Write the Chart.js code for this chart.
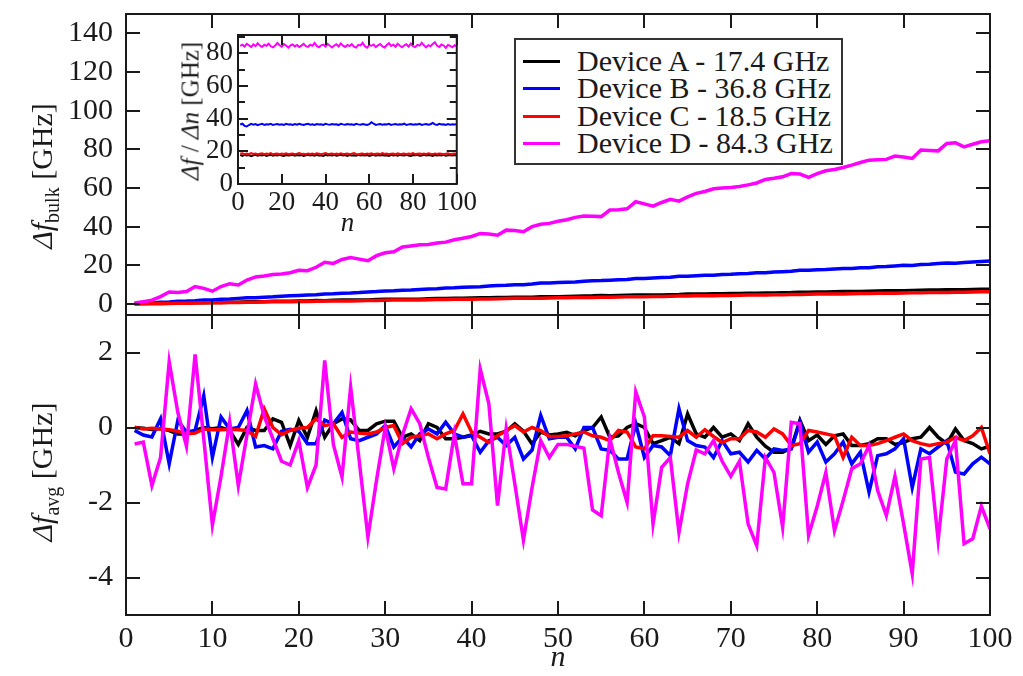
<!DOCTYPE html>
<html>
<head>
<meta charset="utf-8">
<title>Frequency shift per device</title>
<script src="https://cdn.jsdelivr.net/npm/chart.js@4.4.0/dist/chart.umd.min.js"></script>
<style>
    html, body { margin: 0; padding: 0; background: #fff; }
    body { width: 1023px; height: 676px; position: relative; overflow: hidden;
           font-family: 'Liberation Serif', 'Times New Roman', serif; color: #1a1a1a; }
    canvas { position: absolute; }
    .ytitle { position: absolute; white-space: nowrap; transform: translate(-50%, -50%) rotate(-90deg);
              font-size: 30px; line-height: 1; }
    .ytitle sub { font-size: 20px; }
    .ytitle.small { font-size: 25px; }
    #legend { position: absolute; left: 514px; top: 38px; width: 325px; height: 123px;
              border: 2px solid #333; background: #fff; }
    #legend .row { position: absolute; left: 0; height: 28px; line-height: 28px; font-size: 30px; white-space: nowrap; }
    #legend .sw { position: absolute; left: 7px; top: 13px; width: 37px; height: 3px; }
    #legend .txt { position: absolute; left: 61px; top: 0; }
</style>
</head>
<body>
<canvas id="bulk" width="1023" height="316" style="left:0;top:0"></canvas>
<canvas id="avg" width="1023" height="361" style="left:0;top:315px"></canvas>
<canvas id="inset" width="330" height="215" style="left:150px;top:25px"></canvas>

<div class="ytitle" style="left:44px;top:176px"><i>&Delta;f</i><sub>bulk</sub> [GHz]</div>
<div class="ytitle" style="left:44px;top:472px"><i>&Delta;f</i><sub>avg</sub> [GHz]</div>
<div class="ytitle small" style="left:190px;top:111px"><i>&Delta;f</i> / <i>&Delta;n</i> [GHz]</div>
<div id="legend"></div>

<script>
// step index n
const nVals = [
    1, 2, 3, 4, 5, 6, 7, 8, 9, 10, 11, 12, 13, 14, 15, 16, 17, 18, 19, 20,
    21, 22, 23, 24, 25, 26, 27, 28, 29, 30, 31, 32, 33, 34, 35, 36, 37, 38, 39, 40,
    41, 42, 43, 44, 45, 46, 47, 48, 49, 50, 51, 52, 53, 54, 55, 56, 57, 58, 59, 60,
    61, 62, 63, 64, 65, 66, 67, 68, 69, 70, 71, 72, 73, 74, 75, 76, 77, 78, 79, 80,
    81, 82, 83, 84, 85, 86, 87, 88, 89, 90, 91, 92, 93, 94, 95, 96, 97, 98, 99, 100
];

const deviceNames = ['Device A - 17.4 GHz', 'Device B - 36.8 GHz', 'Device C - 18.5 GHz', 'Device D - 84.3 GHz'];
const deviceColors = ['#000000', '#0000ff', '#ff0000', '#ff00ff'];

// cumulative shift, upper panel
const bulkA = [
    0.1, 0.2, 0.2, 0.3, 0.4, 0.4, 0.5, 0.6, 0.7, 0.8, 0.8, 0.9, 0.9, 1.1, 1.1, 1.2, 1.4, 1.4, 1.4, 1.6,
    1.6, 1.8, 1.7, 1.9, 2.0, 2.0, 2.1, 2.1, 2.3, 2.4, 2.4, 2.4, 2.5, 2.5, 2.7, 2.8, 2.8, 2.9, 3.0, 3.1,
    3.2, 3.2, 3.3, 3.4, 3.5, 3.5, 3.5, 3.7, 3.7, 3.8, 3.9, 4.0, 4.1, 4.2, 4.4, 4.3, 4.4, 4.5, 4.6, 4.7,
    4.6, 4.7, 4.8, 4.9, 5.1, 5.1, 5.1, 5.3, 5.3, 5.4, 5.4, 5.6, 5.6, 5.7, 5.7, 5.8, 5.9, 6.1, 6.1, 6.2,
    6.2, 6.3, 6.4, 6.4, 6.5, 6.6, 6.7, 6.8, 6.8, 6.9, 7.0, 7.1, 7.2, 7.2, 7.3, 7.4, 7.4, 7.5, 7.6, 7.6
];
const bulkB = [
    0.2, 0.4, 0.6, 0.9, 1.0, 1.4, 1.5, 1.7, 2.1, 2.1, 2.5, 2.6, 2.9, 3.2, 3.2, 3.5, 3.7, 4.0, 4.2, 4.4,
    4.6, 4.8, 5.2, 5.3, 5.6, 5.7, 5.9, 6.2, 6.4, 6.7, 6.8, 7.1, 7.2, 7.5, 7.8, 7.9, 8.3, 8.4, 8.6, 8.8,
    8.9, 9.3, 9.5, 9.7, 10.0, 10.0, 10.3, 10.8, 10.8, 11.1, 11.3, 11.4, 11.8, 12.0, 12.1, 12.3, 12.5, 12.7, 13.2, 13.2,
    13.5, 13.7, 13.8, 14.4, 14.4, 14.6, 14.8, 14.9, 15.3, 15.4, 15.6, 15.8, 16.1, 16.2, 16.5, 16.7, 16.9, 17.4, 17.4, 17.7,
    17.8, 18.1, 18.4, 18.4, 18.8, 18.7, 19.2, 19.4, 19.7, 20.0, 19.9, 20.4, 20.6, 20.9, 21.2, 21.1, 21.4, 21.7, 22.0, 22.2
];
const bulkC = [
    0.1, 0.1, 0.2, 0.3, 0.3, 0.4, 0.4, 0.5, 0.6, 0.6, 0.7, 0.8, 0.8, 0.9, 0.9, 1.1, 1.1, 1.1, 1.2, 1.3,
    1.3, 1.4, 1.5, 1.5, 1.6, 1.6, 1.7, 1.8, 1.8, 1.9, 2.0, 2.0, 2.1, 2.1, 2.2, 2.3, 2.3, 2.4, 2.5, 2.5,
    2.6, 2.6, 2.7, 2.8, 2.9, 2.9, 3.0, 3.0, 3.1, 3.2, 3.2, 3.3, 3.4, 3.4, 3.5, 3.5, 3.6, 3.7, 3.7, 3.8,
    3.9, 3.9, 4.0, 4.1, 4.1, 4.2, 4.3, 4.3, 4.4, 4.4, 4.5, 4.6, 4.6, 4.7, 4.8, 4.8, 4.9, 4.9, 5.0, 5.1,
    5.1, 5.2, 5.2, 5.3, 5.4, 5.4, 5.5, 5.6, 5.6, 5.7, 5.8, 5.8, 5.9, 5.9, 6.0, 6.1, 6.1, 6.2, 6.3, 6.3
];
const bulkD = [
    0.5, 1.2, 2.0, 3.8, 6.2, 5.9, 6.4, 9.0, 8.1, 6.6, 9.0, 10.5, 9.8, 12.4, 14.0, 14.5, 15.2, 15.5, 16.2, 17.4,
    17.2, 19.0, 21.6, 21.0, 23.0, 24.0, 23.2, 22.4, 25.0, 26.5, 27.0, 29.5, 30.0, 30.6, 30.8, 31.5, 32.0, 33.2, 34.0, 34.9,
    36.5, 36.2, 35.6, 38.2, 38.0, 37.4, 40.0, 41.2, 41.7, 42.8, 43.6, 44.8, 45.5, 45.4, 45.2, 48.6, 48.8, 49.2, 52.9, 51.8,
    50.6, 52.5, 54.1, 53.2, 55.4, 57.2, 58.2, 59.6, 60.0, 60.3, 60.8, 61.6, 62.6, 64.4, 65.0, 65.8, 67.5, 67.2, 65.5, 67.4,
    68.9, 69.6, 70.6, 71.8, 73.2, 74.4, 74.6, 74.8, 76.5, 76.0, 75.3, 79.6, 79.4, 79.2, 83.0, 83.4, 81.3, 82.6, 83.9, 84.5
];

// shift relative to the average, lower panel
const avgA = [
    0.0, -0.02, -0.05, -0.03, -0.08, -0.17, -0.17, -0.08, 0.0, -0.03, 0.0, -0.08, -0.45, 0.0, -0.08, -0.08, 0.23, 0.14, -0.48, 0.19,
    -0.26, 0.45, -0.26, 0.1, 0.23, 0.2, -0.08, -0.08, 0.1, 0.17, 0.17, -0.26, -0.17, -0.35, 0.1, 0.0, -0.3, -0.3, -0.26, -0.2,
    -0.1, -0.17, -0.17, -0.1, 0.1, -0.1, -0.44, -0.12, -0.2, -0.17, -0.13, -0.22, -0.08, 0.0, 0.28, -0.26, -0.22, 0.0, 0.1, 0.0,
    -0.43, -0.35, -0.26, -0.43, 0.36, -0.17, -0.26, 0.0, -0.26, -0.17, -0.35, 0.1, -0.26, -0.5, -0.66, -0.66, -0.55, 0.19, -0.35, -0.2,
    -0.45, -0.22, -0.17, -0.48, -0.48, -0.43, -0.3, -0.3, -0.45, -0.4, -0.3, -0.26, 0.0, -0.26, -0.43, -0.04, -0.35, -0.43, -0.57, -0.5
];
const avgB = [
    -0.08, -0.2, -0.25, 0.23, -0.97, 0.19, -0.12, -0.08, 0.85, -0.8, 0.28, -0.04, 0.0, 0.45, -0.52, -0.48, -0.57, -0.1, -0.05, -0.1,
    -0.43, -0.43, 0.2, 0.1, 0.4, -0.3, -0.35, -0.26, -0.17, 0.05, -0.52, -0.26, -0.52, -0.17, -0.04, -0.17, 0.14, -0.17, -0.26, -0.22,
    -0.66, -0.35, -0.26, -0.48, -0.26, -0.84, -0.6, 0.32, -0.3, -0.26, -0.26, -0.57, 0.0, 0.0, -0.57, -0.61, -0.84, -0.84, 0.1, -0.8,
    -0.48, -0.52, -0.75, 0.5, -0.35, -0.48, -0.52, -0.8, -0.35, -0.7, -0.66, -0.92, -0.61, -0.84, -0.57, -0.61, -0.57, 0.14, -0.66, -0.39,
    -0.92, -0.7, -0.39, -0.97, -0.66, -1.72, -0.75, -0.7, -0.57, -0.3, -1.6, -0.57, -0.7, -0.52, -0.35, -1.19, -1.24, -0.97, -0.79, -0.97
];
const avgC = [
    0.0, -0.04, -0.02, -0.04, -0.06, -0.1, -0.17, -0.15, -0.04, -0.06, -0.06, -0.05, -0.06, -0.08, -0.24, 0.5, 0.0, -0.19, -0.08, -0.02,
    0.0, 0.23, 0.05, 0.1, -0.26, -0.12, -0.15, -0.17, -0.12, 0.0, 0.05, -0.43, -0.26, -0.22, -0.17, -0.3, -0.17, -0.08, 0.36, -0.12,
    -0.26, -0.4, -0.22, -0.08, 0.05, -0.12, 0.0, -0.08, -0.24, -0.24, -0.22, -0.17, -0.12, -0.22, -0.26, -0.35, -0.08, -0.12, -0.52, -0.57,
    -0.22, -0.22, -0.24, -0.26, -0.08, -0.26, -0.06, -0.24, -0.4, -0.3, -0.3, -0.08, -0.12, -0.26, -0.04, -0.17, -0.48, -0.43, -0.08, -0.12,
    -0.17, -0.22, -0.8, -0.26, -0.48, -0.48, -0.43, -0.35, -0.26, -0.17, -0.35, -0.43, -0.48, -0.43, -0.39, -0.26, -0.35, -0.22, 0.0, -0.7
];
const avgD = [
    -0.44, -0.39, -1.55, -0.8, 1.75, 0.4, -0.5, 1.95, -0.3, -2.6, -1.3, 0.15, -1.55, -0.2, 1.16, 0.3, -0.3, -0.9, -1.0, -0.35,
    -1.6, -1.0, 1.79, -0.45, -1.32, 1.08, -0.9, -2.92, -1.4, 0.0, -1.1, -0.2, 0.5, 0.1, -0.8, -1.6, -1.64, -0.17, -1.5, -1.5,
    1.56, 0.63, -2.08, -0.04, -1.5, -3.0, -1.6, -0.35, -0.8, -0.45, -0.45, -0.5, -0.55, -2.2, -2.35, -0.3, -1.2, -2.0, 0.95, 0.28,
    -2.57, -1.06, -0.8, -2.8, -1.5, -0.6, -0.7, -0.35, -0.9, -1.3, -0.9, -2.57, -3.15, -0.8, -1.2, -2.66, 0.14, 0.1, -2.88, -2.1,
    -1.2, -2.75, -1.95, -1.1, -0.97, -0.48, -1.68, -2.35, -1.3, -2.57, -3.9, -0.84, -0.8, -3.0, -0.84, -0.35, -3.1, -2.97, -2.1, -2.7
];

// shift per step, inset
const rateA = [
    17.8, 17.2, 17.9, 17.4, 17.7, 17.1, 17.6, 17.9, 17.3, 17.7, 17.5, 17.9, 17.2, 17.6, 17.8, 17.3, 17.7, 17.4, 17.9, 17.5,
    17.2, 17.8, 17.4, 17.6, 17.9, 17.3, 17.7, 17.5, 17.8, 17.2, 17.6, 17.9, 17.4, 17.7, 17.3, 17.8, 17.5, 17.6, 17.2, 17.9,
    17.4, 17.7, 17.5, 17.8, 17.3, 17.6, 17.9, 17.4, 17.7, 17.2, 17.8, 17.5, 17.6, 17.3, 17.9, 17.4, 17.7, 17.5, 17.8, 17.2,
    17.6, 17.9, 17.3, 17.7, 17.5, 17.8, 17.4, 17.6, 17.2, 17.9, 17.5, 17.7, 17.3, 17.8, 17.6, 17.4, 17.9, 17.5, 17.2, 17.7,
    17.6, 17.8, 17.3, 17.5, 17.9, 17.4, 17.7, 17.6, 17.2, 17.8, 17.5, 17.7, 17.4, 17.9, 17.3, 17.6, 17.8, 17.5, 17.7, 17.4
];
const rateB = [
    36.4, 36.9, 35.6, 35.2, 36.1, 36.8, 36.3, 36.7, 36.0, 36.5, 36.9, 36.2, 36.6, 36.4, 36.8, 36.1, 36.5, 36.7, 36.3, 36.6,
    36.2, 36.8, 36.4, 36.5, 36.1, 36.7, 36.3, 36.9, 36.4, 36.2, 36.6, 36.8, 36.3, 36.5, 36.1, 36.7, 36.4, 36.6, 36.2, 36.8,
    36.5, 36.3, 36.7, 36.4, 36.6, 36.1, 36.9, 36.5, 36.3, 36.7, 36.4, 36.6, 36.2, 36.8, 36.5, 36.3, 36.7, 36.4, 36.1, 36.6,
    37.8, 36.9, 36.2, 36.5, 36.7, 36.3, 36.6, 36.4, 36.8, 36.2, 36.5, 36.7, 36.3, 36.6, 36.4, 36.9, 36.1, 36.5, 36.7, 36.3,
    36.6, 36.4, 36.8, 36.2, 36.5, 36.7, 36.3, 36.6, 37.4, 36.5, 36.2, 36.8, 36.4, 36.6, 36.1, 36.7, 36.3, 36.5, 36.4, 36.6
];
const rateC = [
    18.5, 18.8, 18.2, 18.6, 18.3, 18.9, 18.4, 18.7, 18.2, 18.5, 18.8, 18.3, 18.6, 18.4, 18.9, 18.2, 18.5, 18.7, 18.3, 18.6,
    18.4, 18.8, 18.2, 18.5, 18.7, 18.3, 18.6, 18.9, 18.4, 18.5, 18.2, 18.7, 18.4, 18.6, 18.3, 18.8, 18.5, 18.2, 18.6, 18.9,
    18.4, 18.5, 18.7, 18.3, 18.6, 18.2, 18.8, 18.4, 18.5, 18.7, 18.3, 18.6, 18.9, 18.4, 18.2, 18.5, 18.7, 18.3, 18.6, 18.4,
    18.8, 18.2, 18.5, 18.6, 18.3, 18.9, 18.4, 18.7, 18.2, 18.5, 18.6, 18.3, 18.8, 18.4, 18.5, 18.7, 18.2, 18.6, 18.4, 18.9,
    18.3, 18.5, 18.7, 18.4, 18.6, 18.2, 18.8, 18.5, 18.3, 18.6, 18.4, 18.7, 18.5, 18.2, 18.6, 18.8, 18.3, 18.5, 18.7, 18.4
];
const rateD = [
    84.6, 85.3, 84.1, 85.8, 84.9, 83.8, 85.5, 84.4, 86.1, 84.8, 83.9, 85.2, 84.6, 85.9, 84.3, 83.6, 84.8, 86.3, 84.9, 84.1,
    85.6, 84.7, 83.5, 84.9, 85.4, 84.2, 85.1, 83.8, 84.7, 85.8, 84.4, 83.9, 85.2, 84.6, 86.4, 84.5, 83.7, 84.9, 85.3, 84.1,
    85.7, 84.6, 83.6, 84.8, 85.5, 84.2, 86.0, 84.7, 83.9, 85.1, 84.4, 85.6, 84.1, 83.5, 85.2, 84.8, 86.5, 84.3, 83.4, 85.0,
    84.6, 85.4, 83.8, 84.9, 85.7, 84.2, 83.6, 85.1, 86.2, 84.5, 85.3, 84.0, 85.8, 84.6, 83.7, 84.9, 85.5, 84.1, 85.9, 84.4,
    83.8, 85.2, 84.7, 86.4, 84.9, 83.6, 85.0, 84.3, 85.7, 86.8, 84.6, 83.9, 85.4, 84.8, 83.3, 85.1, 84.5, 83.7, 84.9, 84.3
];

// axis ticks
const nTicks = [0, 10, 20, 30, 40, 50, 60, 70, 80, 90, 100];
const bulkTicks = [0, 20, 40, 60, 80, 100, 120, 140];
const avgTicks = [-4, -2, 0, 2];
const insetXTicks = [0, 20, 40, 60, 80, 100];
const insetYTicks = [0, 20, 40, 60, 80];
const insetYMinor = [10, 30, 50, 70, 90];

const FONT = "'Liberation Serif', 'Times New Roman', serif";
const INK = '#1a1a1a';

function setTicks(values) {
    return scale => { scale.ticks = values.map(v => ({ value: v })); };
}

function toPoints(vals) {
    return nVals.map((n, i) => ({ x: n, y: vals[i] }));
}

function makeSets(groups, width) {
    return groups.map((vals, k) => ({
        label: deviceNames[k],
        data: toPoints(vals),
        borderColor: deviceColors[k],
        borderWidth: width,
        pointRadius: 0,
        tension: 0,
        fill: false,
        order: groups.length - k
    }));
}

// box round the plot area with inward tick marks on all four sides
const frameTicks = {
    id: 'frameTicks',
    afterDatasetsDraw(chart, args, opts) {
        const { ctx, chartArea: a, scales } = chart;
        const len = opts.len || 14;
        ctx.save();
        ctx.strokeStyle = INK;
        ctx.lineWidth = opts.lineWidth || 2;
        ctx.beginPath();
        scales.x.ticks.forEach(t => {
            const px = Math.round(scales.x.getPixelForValue(t.value));
            ctx.moveTo(px, a.bottom); ctx.lineTo(px, a.bottom - len);
            ctx.moveTo(px, a.top); ctx.lineTo(px, a.top + len);
        });
        scales.y.ticks.forEach(t => {
            const py = Math.round(scales.y.getPixelForValue(t.value));
            ctx.moveTo(a.left, py); ctx.lineTo(a.left + len, py);
            ctx.moveTo(a.right, py); ctx.lineTo(a.right - len, py);
        });
        (opts.minorY || []).forEach(v => {
            const py = Math.round(scales.y.getPixelForValue(v));
            const ml = opts.minorLen || len / 2;
            ctx.moveTo(a.left, py); ctx.lineTo(a.left + ml, py);
            ctx.moveTo(a.right, py); ctx.lineTo(a.right - ml, py);
        });
        ctx.stroke();
        ctx.strokeRect(a.left, a.top, a.right - a.left, a.bottom - a.top);
        ctx.restore();
    }
};

function baseOptions(padding) {
    return {
        responsive: false,
        animation: false,
        events: [],
        layout: { padding },
        plugins: { legend: { display: false }, tooltip: { enabled: false } }
    };
}

function noGrid() {
    return { display: false, drawTicks: false };
}

// upper panel
const bulkOpts = baseOptions({ top: 14, right: 33, bottom: 0, left: 0 });
bulkOpts.plugins.frameTicks = { len: 14 };
bulkOpts.scales = {
    x: {
        type: 'linear', min: 0, max: 100,
        grid: noGrid(), border: { display: false },
        ticks: { display: false },
        afterBuildTicks: setTicks(nTicks),
        afterFit: s => { s.height = 1; s.paddingLeft = 0; s.paddingRight = 0; }
    },
    y: {
        min: -5.7, max: 150,
        grid: noGrid(), border: { display: false },
        ticks: { color: INK, padding: 13, font: { family: FONT, size: 30 } },
        afterBuildTicks: setTicks(bulkTicks),
        afterFit: s => { s.width = 126; s.paddingTop = 0; s.paddingBottom = 0; }
    }
};
new Chart(document.getElementById('bulk'), {
    type: 'line',
    data: { datasets: makeSets([bulkA, bulkB, bulkC, bulkD], 3.5) },
    options: bulkOpts,
    plugins: [frameTicks]
});

// lower panel
const avgOpts = baseOptions({ top: 0, right: 33, bottom: 0, left: 0 });
avgOpts.plugins.frameTicks = { len: 14 };
avgOpts.scales = {
    x: {
        type: 'linear', min: 0, max: 100,
        grid: noGrid(), border: { display: false },
        ticks: { color: INK, padding: 6, maxRotation: 0, font: { family: FONT, size: 30 } },
        title: { display: true, text: 'n', color: INK, padding: 0, font: { family: FONT, size: 30, style: 'italic' } },
        afterBuildTicks: setTicks(nTicks),
        afterFit: s => { s.height = 61; }
    },
    y: {
        min: -5, max: 3,
        grid: noGrid(), border: { display: false },
        ticks: { color: INK, padding: 13, font: { family: FONT, size: 30 } },
        afterBuildTicks: setTicks(avgTicks),
        afterFit: s => { s.width = 126; s.paddingTop = 0; s.paddingBottom = 0; }
    }
};
new Chart(document.getElementById('avg'), {
    type: 'line',
    data: { datasets: makeSets([avgA, avgB, avgC, avgD], 3.5) },
    options: avgOpts,
    plugins: [frameTicks]
});

// inset: shift per step
const insetOpts = baseOptions({ top: 10, right: 17, bottom: 0, left: 0 });
insetOpts.plugins.frameTicks = { len: 10, minorY: insetYMinor, minorLen: 7 };
insetOpts.scales = {
    x: {
        type: 'linear', min: 0, max: 100,
        grid: noGrid(), border: { display: false },
        ticks: { color: INK, padding: 3, maxRotation: 0, font: { family: FONT, size: 27 } },
        title: { display: true, text: 'n', color: INK, padding: 0, font: { family: FONT, size: 27, style: 'italic' } },
        afterBuildTicks: setTicks(insetXTicks),
        afterFit: s => { s.height = 56; }
    },
    y: {
        min: 0, max: 91.2,
        grid: noGrid(), border: { display: false },
        ticks: { color: INK, padding: 5, font: { family: FONT, size: 27 } },
        afterBuildTicks: setTicks(insetYTicks),
        afterFit: s => { s.width = 88; s.paddingTop = 0; s.paddingBottom = 0; }
    }
};
new Chart(document.getElementById('inset'), {
    type: 'line',
    data: { datasets: makeSets([rateA, rateB, rateC, rateD], 2) },
    options: insetOpts,
    plugins: [frameTicks]
});

// legend box, one row per device
const legend = document.getElementById('legend');
deviceNames.forEach((name, k) => {
    const row = document.createElement('div');
    row.className = 'row';
    row.style.top = (7 + k * 27.3) + 'px';
    row.innerHTML = '<span class="sw" style="background:' + deviceColors[k] + '"></span><span class="txt">' + name + '</span>';
    legend.appendChild(row);
});
</script>
</body>
</html>
